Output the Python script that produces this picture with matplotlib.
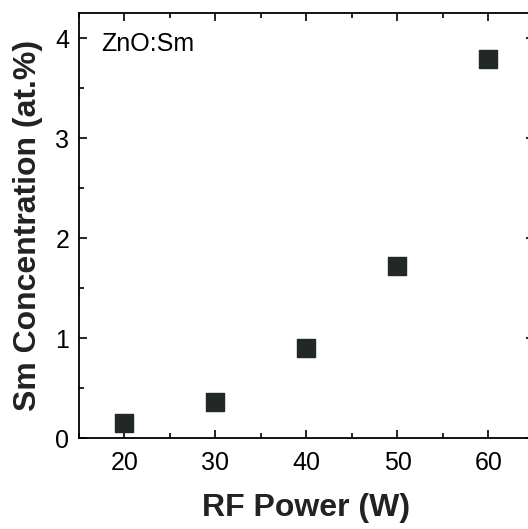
import numpy as np
import matplotlib
matplotlib.use("Agg")
import matplotlib.pyplot as plt
from matplotlib.ticker import MultipleLocator

# Data
rf_power = [20, 30, 40, 50, 60]
sm_conc = [0.15, 0.36, 0.90, 1.72, 3.79]

plt.rcParams['font.family'] = ['Liberation Sans', 'DejaVu Sans']

fig = plt.figure(figsize=(5.28, 5.29), dpi=100)
ax = fig.add_axes([79 / 528, 91 / 529, 455 / 528, 425 / 529])

ax.scatter(rf_power, sm_conc, marker='s', s=150, color='#222824', zorder=3)

ax.set_xlim(15, 65)
ax.set_ylim(0, 4.25)
ax.xaxis.set_major_locator(MultipleLocator(10))
ax.xaxis.set_minor_locator(MultipleLocator(5))
ax.yaxis.set_major_locator(MultipleLocator(1))
ax.yaxis.set_minor_locator(MultipleLocator(0.5))

ax.tick_params(which='both', direction='in', top=True, right=True, width=1.2)
ax.tick_params(which='major', length=6)
ax.tick_params(which='minor', length=3.5)
ax.tick_params(axis='x', which='major', labelsize=18, pad=9)
ax.tick_params(axis='y', which='major', labelsize=18, pad=7)

for sp in ax.spines.values():
    sp.set_linewidth(1.3)

ax.set_xlabel("RF Power (W)", fontsize=23, fontweight='bold', labelpad=13, color='#222222')
ax.set_ylabel("Sm Concentration (at.%)", fontsize=23, fontweight='bold', labelpad=9, color='#222222')

ax.text(0.05, 0.955, "ZnO:Sm", transform=ax.transAxes, fontsize=18, va='top', ha='left')

fig.savefig("out.png", dpi=100)
